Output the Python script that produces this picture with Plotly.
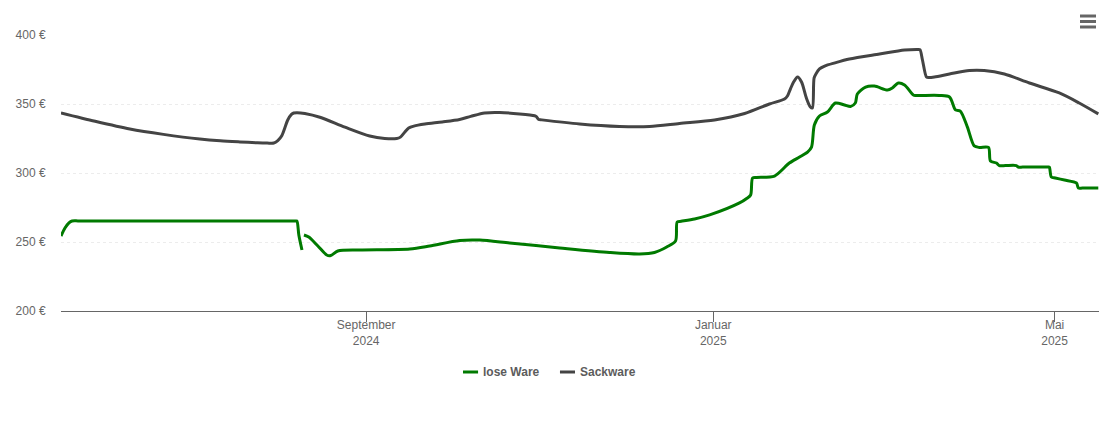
import pandas as pd
import plotly.graph_objects as go

START = pd.Timestamp("2024-05-16 18:00")
END_DAY = 364.85

sack_days = [0, 12, 24.2, 36, 48.8, 56, 62.9, 69, 72.5, 74.8, 76.2, 77.6, 79.7, 81, 81.8, 83, 85.7, 91, 99.8, 108.5,
             113.8, 118, 119.3, 120.8, 122.2, 124, 127.9, 134, 140.1, 144, 148.9, 154.2, 161.2, 166.5, 167, 167.9,
             169, 182.3, 196.3, 206.9, 217.4, 229.7, 240.3, 249, 254.3, 255.4, 256.4, 257.5, 258.9, 260.3, 262,
             263.4, 264.1, 264.7, 265.4, 266.6, 268.4, 272, 277.1, 287.7, 296.5, 301, 301.9, 302.8, 304.2, 305,
             307, 312.3, 319.3, 324.5, 331.6, 340.4, 350.9, 357.9, 364.6]
sack_values = [343.6, 337.5, 331.9, 328, 324.6, 323.3, 322.5, 321.9, 321.7, 321.7, 323.5, 327, 338.4, 342.5, 343.5,
               343.7, 343.1, 340.4, 333.2, 326.8, 325, 325, 326, 329.5, 332.6, 334, 335.5, 337, 338.8, 341, 343.5,
               343.8, 342.8, 341.5, 341, 338.8, 338.5, 335.5, 333.7, 333.7, 335.9, 338.4, 343.1, 350, 353.6, 356,
               361, 365.9, 369.6, 365.9, 354.3, 347.8, 347.1, 368.8, 372, 375.4, 377.5, 379.8, 382.6, 386.2, 389.1,
               389.5, 389.4, 381.9, 369.6, 369.2, 369.6, 371.7, 374.3, 374.3, 371.7, 365.2, 358, 350.7, 342.8]

lose_days = [0, 1.4, 2.8, 3.9, 6, 13.7, 50, 78, 81, 82.3, 82.9, 83.6, 84.7, 85, 85.4, 87.1, 90.3, 93.4, 94.8, 97.3,
             105, 122.6, 129.6, 140.1, 147.2, 157.7, 175.3, 192.8, 203.4, 208.6, 212.9, 216, 216.6, 218, 222.7, 228,
             238.5, 241, 242.4, 243.1, 244.5, 250.8, 256, 259.6, 262.4, 263.8, 264.8, 266.6, 269.4, 272.2, 275.4,
             277.5, 279.2, 279.9, 282.8, 285.9, 290.5, 292.2, 294.3, 296.5, 299.6, 300.5, 308.7, 312.3, 314.4, 316.1,
             318.6, 321, 322.8, 326, 326.7, 328.8, 329.8, 332, 335.8, 336.5, 338, 344, 346, 347, 347.4, 348.1, 349.5,
             352.7, 356.9, 357.6, 359, 364.6]
lose_values = [254.3, 260.1, 263.8, 265.2, 265.3, 265.2, 265.2, 265.2, 265.2, 265.2, 265.2, 255.1, 244.2, None, 255.1,
               253.6, 247.1, 240.6, 240.2, 243.5, 244.2, 244.9, 247.1, 251.1, 251.4, 249.3, 245.7, 242.4, 241.3,
               242.4, 246.4, 250.7, 264.5, 265, 266.7, 269.6, 278.3, 281.5, 284.1, 296.4, 296.8, 297.8, 307.2, 311.6,
               315.2, 318.8, 334.8, 341.3, 344.2, 350.7, 349.3, 348.2, 350.7, 357.2, 362.3, 363, 360.1, 361.6, 365.2,
               363.8, 356.5, 356.2, 356.2, 355.1, 345.7, 344.9, 333.2, 319.6, 318.5, 318.5, 308.7, 307.2, 305.4,
               305.4, 305.4, 304.3, 304.3, 304.3, 304.3, 304.3, 304.3, 297.1, 296.4, 294.9, 292.8, 289.1, 289.1, 289.1]

y_ticks = [200, 250, 300, 350, 400]
y_tick_labels = ["200 €", "250 €", "300 €", "350 €", "400 €"]
x_tick_dates = ["2024-09-01", "2025-01-01", "2025-05-01"]
x_tick_labels = ["September<br>2024", "Januar<br>2025", "Mai<br>2025"]

LOSE_COLOR = "#007a00"
SACK_COLOR = "#444444"


def dates(days):
    return [START + pd.Timedelta(days=d) for d in days]


def swatch(x0, x1, color):
    return dict(type="line", xref="paper", yref="paper", x0=x0, x1=x1, y0=-0.221, y1=-0.221,
                line=dict(color=color, width=3))


def legend_text(x, text):
    return dict(xref="paper", yref="paper", x=x, y=-0.221, xanchor="left", yanchor="middle", showarrow=False,
                text=f"<b>{text}</b>", font=dict(size=12, color="#5c5c5c"))


fig = go.Figure()
fig.add_trace(go.Scatter(x=dates(lose_days), y=lose_values, name="lose Ware", mode="lines",
                         line=dict(color=LOSE_COLOR, width=3, shape="spline", smoothing=0.8)))
fig.add_trace(go.Scatter(x=dates(sack_days), y=sack_values, name="Sackware", mode="lines",
                         line=dict(color=SACK_COLOR, width=3, shape="spline", smoothing=0.8)))

fig.update_layout(
    width=1102, height=414, autosize=False,
    margin=dict(l=53, r=11, t=27, b=111),
    paper_bgcolor="white", plot_bgcolor="white",
    font=dict(family="Liberation Sans, Arial, sans-serif", size=12, color="#666666"),
    showlegend=False,
    xaxis=dict(range=[START, START + pd.Timedelta(days=END_DAY)], tickmode="array", tickvals=x_tick_dates,
               ticktext=x_tick_labels, ticks="outside", ticklen=10, tickwidth=1, tickcolor="#666666",
               ticklabelstandoff=-7, automargin=False,
               showline=True, linecolor="#666666", linewidth=1, showgrid=False, zeroline=False,
               tickfont=dict(size=12, color="#666666")),
    yaxis=dict(range=[200, 400], tickmode="array", tickvals=y_ticks, ticktext=y_tick_labels, showgrid=True,
               griddash="dot", gridcolor="#ececec", gridwidth=1, zeroline=False, showline=False, automargin=False,
               ticks="outside", ticklen=12, tickcolor="rgba(0,0,0,0)", tickfont=dict(size=12, color="#666666")),
    shapes=[dict(type="line", xref="paper", yref="paper", x0=0.9817, x1=0.9971, y0=v, y1=v,
                 line=dict(color="#666666", width=3)) for v in (1.0688, 1.0489, 1.029)]
           + [swatch(0.3873, 0.4018, LOSE_COLOR), swatch(0.4807, 0.4952, SACK_COLOR)],
    annotations=[legend_text(0.4047, "lose Ware"), legend_text(0.4981, "Sackware")],
)
fig.write_html("out.html", config=dict(displayModeBar=False))
